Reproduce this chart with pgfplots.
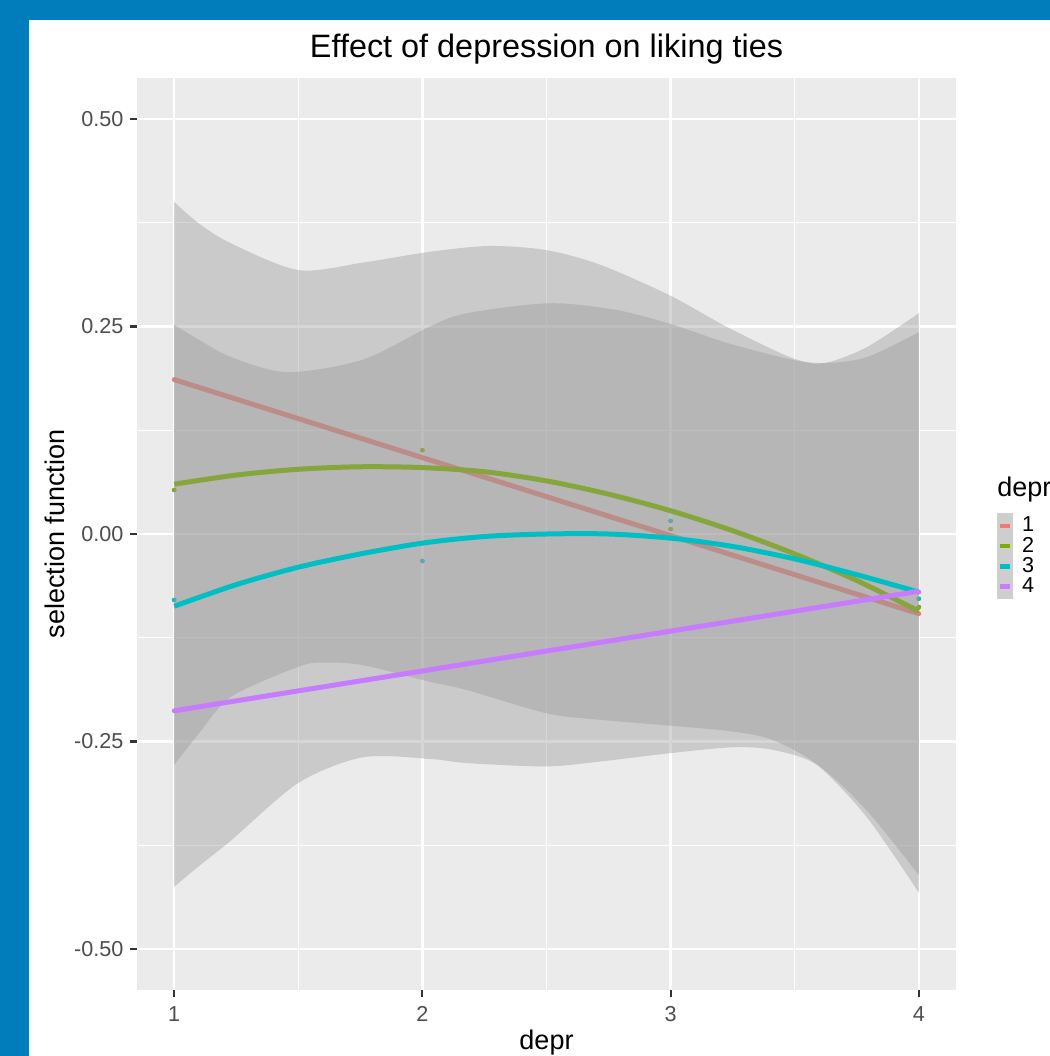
\documentclass[border=0pt]{standalone}
\usepackage{fontspec}
\setmainfont{Liberation Sans}
\usepackage{pgfplots}
\pgfplotsset{compat=1.18}
\usepgfplotslibrary{fillbetween}
\definecolor{frameblue}{HTML}{007DBA}
\definecolor{panelbg}{HTML}{EBEBEB}
\definecolor{ribbon}{HTML}{999999}
\definecolor{keygray}{HTML}{CECECE}
\definecolor{cA}{HTML}{F8766D}
\definecolor{cB}{HTML}{7CAE00}
\definecolor{cC}{HTML}{00BFC4}
\definecolor{cD}{HTML}{C77CFF}
\definecolor{ticktext}{HTML}{4D4D4D}
\definecolor{tickline}{HTML}{333333}
\begin{document}
\begin{tikzpicture}
\fill[frameblue] (0,518bp) rectangle (525bp,528bp);
\fill[frameblue] (0,0) rectangle (14.5bp,528bp);
\begin{axis}[
  at={(68.5bp,32.75bp)}, anchor=south west,
  scale only axis, width=409.5bp, height=456.5bp,
  xmin=0.85, xmax=4.15, ymin=-0.55, ymax=0.55,
  fill between/on layer=main,
  clip marker paths=true,
  axis background/.style={fill=panelbg},
  axis line style={draw=none},
  xtick={1,2,3,4}, minor xtick={1.5,2.5,3.5},
  ytick={-0.5,-0.25,0,0.25,0.5}, minor ytick={-0.375,-0.125,0.125,0.375},
  yticklabels={-0.50,-0.25,0.00,0.25,0.50},
  xticklabels={1,2,3,4},
  grid=both,
  major grid style={white, line width=1.2bp},
  minor grid style={white, line width=0.6bp},
  tick align=outside, xtick pos=bottom, ytick pos=left,
  major tick length=3.4bp, minor tick length=0pt,
  tick style={tickline, line width=1.07bp},
  xticklabel style={font=\fontsize{10.8bp}{13bp}\selectfont, text=ticktext, inner sep=0pt, yshift=-4.5bp},
  yticklabel style={font=\fontsize{10.8bp}{13bp}\selectfont, text=ticktext, inner sep=0pt, xshift=-3.2bp},
  title={Effect of depression on liking ties},
  every axis title shift=0pt,
  title style={font=\fontsize{16.2bp}{19bp}\selectfont, at={(axis description cs:0.5,1.0221)}, anchor=base, inner sep=0pt},
  xlabel={depr},
  xlabel style={font=\fontsize{13.5bp}{16bp}\selectfont, at={(axis description cs:0.5,-0.0575)}, anchor=center, inner sep=0pt},
  ylabel={selection function},
  ylabel style={font=\fontsize{13.5bp}{16bp}\selectfont, at={(axis description cs:-0.1001,0.5)}, anchor=center, inner sep=0pt},
  legend style={at={(axis description cs:1.0501,0.5230)}, anchor=north west, draw=none, fill=none, inner sep=0pt, outer sep=0pt, row sep=-2.6bp, column sep=4.5bp, font=\fontsize{10.8bp}{12bp}\selectfont, nodes={inner sep=0pt, text=black}},
  legend cell align=left,
  legend image code/.code={\fill[keygray] (0bp,-5.125bp) rectangle (5.6bp,5.125bp); \draw[#1, line width=2.2bp] (0.4bp,0bp) -- (5.2bp,0bp);},
]
% points
\addplot[only marks, mark=*, mark size=1bp, cA, forget plot] coordinates {(1,0.186)(4,-0.096)};
\addplot[only marks, mark=*, mark size=1bp, cB, forget plot] coordinates {(1,0.053)(2,0.101)(3,0.006)(4,-0.088)};
\addplot[only marks, mark=*, mark size=1bp, cC, forget plot] coordinates {(1,-0.0795)(2,-0.0325)(3,0.0157)(4,-0.078)};
\addplot[only marks, mark=*, mark size=1bp, cD, forget plot] coordinates {(1,-0.213)(4,-0.070)};
% group 1
\addplot[cA, line width=2.5bp] coordinates {(1,0.186)(4,-0.096)};
\addlegendentry{1}
% group 2 ribbon
\addplot[name path=gu, draw=none, smooth, forget plot] coordinates {
(1,0.400)(1.1,0.374)(1.23,0.350)(1.5,0.318)(1.76,0.327)(2.03,0.340)(2.27,0.347)(2.5,0.342)(2.72,0.324)(3.0,0.287)(3.23,0.249)(3.49,0.212)(3.62,0.206)(3.79,0.213)(4.0,0.243)};
\addplot[name path=gl, draw=none, smooth, forget plot] coordinates {
(1,-0.278)(1.1,-0.240)(1.23,-0.196)(1.5,-0.160)(1.6,-0.155)(1.76,-0.158)(2.03,-0.178)(2.18,-0.188)(2.5,-0.216)(2.72,-0.224)(3.0,-0.231)(3.25,-0.238)(3.41,-0.248)(3.59,-0.278)(3.79,-0.341)(4.0,-0.432)};
\addplot[ribbon, fill opacity=0.4, draw=none, forget plot] fill between[of=gu and gl];
\addplot[cB, line width=2.5bp, smooth] coordinates {
(1,0.060)(1.25,0.071)(1.5,0.078)(1.75,0.081)(2,0.080)(2.25,0.075)(2.5,0.064)(2.75,0.048)(3,0.028)(3.25,0.004)(3.5,-0.024)(3.75,-0.056)(4,-0.093)};
\addlegendentry{2}
% group 3 ribbon
\addplot[name path=cu, draw=none, smooth, forget plot] coordinates {
(1,0.252)(1.1,0.234)(1.23,0.213)(1.455,0.195)(1.76,0.210)(2.03,0.250)(2.18,0.266)(2.51,0.278)(2.78,0.270)(3.0,0.253)(3.23,0.230)(3.49,0.210)(3.62,0.206)(3.79,0.225)(4.0,0.266)};
\addplot[name path=cl, draw=none, smooth, forget plot] coordinates {
(1,-0.425)(1.1,-0.400)(1.23,-0.369)(1.5,-0.300)(1.76,-0.269)(2.03,-0.271)(2.18,-0.276)(2.5,-0.280)(2.72,-0.274)(3.0,-0.264)(3.25,-0.257)(3.41,-0.260)(3.59,-0.278)(3.79,-0.333)(4.0,-0.411)};
\addplot[ribbon, fill opacity=0.4, draw=none, forget plot] fill between[of=cu and cl];
\addplot[cC, line width=2.5bp, smooth] coordinates {
(1,-0.087)(1.25,-0.061)(1.5,-0.040)(1.75,-0.024)(2,-0.011)(2.25,-0.003)(2.5,0.000)(2.75,0.000)(3,-0.005)(3.25,-0.015)(3.5,-0.030)(3.75,-0.049)(4,-0.070)};
\addlegendentry{3}
% group 4
\addplot[cD, line width=2.5bp] coordinates {(1,-0.213)(4,-0.069)};
\addlegendentry{4}
\end{axis}
\node[anchor=west, inner sep=0pt, font=\fontsize{13.5bp}{16bp}\selectfont] at (498.5bp,283bp) {depr};
\pgfresetboundingbox
\useasboundingbox (0,0) rectangle (525bp,528bp);
\end{tikzpicture}
\end{document}
